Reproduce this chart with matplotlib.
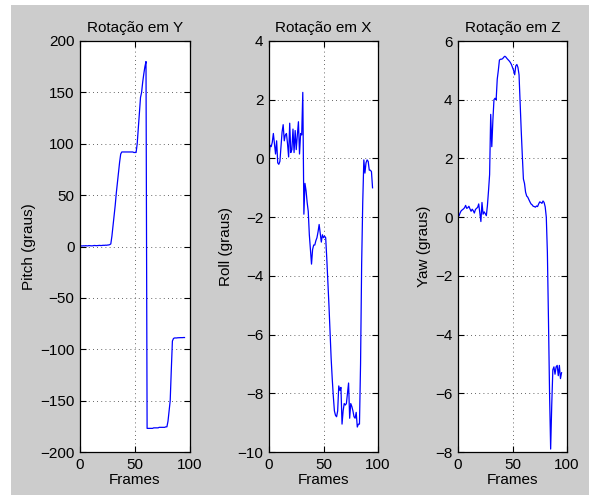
import matplotlib
matplotlib.use("Agg")
import matplotlib.pyplot as plt
from matplotlib.patches import Rectangle
import numpy as np

frames = list(range(96))

pitch = [0.5, 0.6, 0.5, 0.7, 0.6, 0.8, 0.7, 0.6, 0.9, 0.8, 0.7, 0.6, 0.8, 1.0, 0.9,
         0.8, 0.9, 1.0, 1.1, 0.9, 1.0, 1.2, 1.1, 1.3, 1.2, 1.4, 1.5, 1.8, 2.5, 10,
         20, 30, 40, 52, 62, 72, 82, 90, 92, 92, 92, 92, 92, 92, 92, 92,
         92, 92, 92, 91.5, 91.5, 91.5, 100, 115, 130, 145, 150, 160, 168, 175,
         180, -177, -177, -177, -177, -177, -177, -176.5, -176.5, -176.5, -176.5,
         -176.5, -176, -176, -176, -176, -176, -176, -175.5, -175.5, -170, -160,
         -150, -120, -92, -89.5, -89, -89, -89, -88.8, -88.8, -88.7, -88.7, -88.7,
         -88.6, -88.6]

roll = [0.0, 0.45, 0.4, 0.55, 0.85, 0.5, 0.15, 0.6, -0.15, -0.2, -0.1, 0.4, 0.9,
        1.15, 0.6, 0.8, 0.85, 0.5, 0.05, 1.2, 0.2, 0.3, 1.0, 0.2, 0.95, 0.3, 0.8,
        1.25, 0.15, 0.85, 0.8, 2.25, -1.9, -0.85, -1.1, -1.5, -1.8, -2.6, -3.1,
        -3.6, -3.1, -2.95, -2.95, -2.8, -2.7, -2.5, -2.25, -2.55, -2.85, -2.6,
        -2.7, -2.65, -2.7, -3.4, -4.2, -5.0, -5.9, -6.8, -7.5, -8.1, -8.6, -8.75,
        -8.8, -8.6, -7.75, -7.9, -7.8, -9.05, -8.6, -8.35, -8.4, -8.35, -8.0,
        -7.65, -8.85, -8.35, -8.45, -8.6, -8.8, -8.85, -8.65, -9.15, -9.05,
        -9.05, -7.0, -3.6, -1.5, -0.05, -0.5, -0.15, -0.05, -0.1, -0.4, -0.4,
        -0.45, -1.0]

yaw = [0.0, 0.05, 0.15, 0.22, 0.25, 0.28, 0.32, 0.4, 0.3, 0.32, 0.37, 0.28, 0.2,
       0.27, 0.22, 0.14, 0.26, 0.3, 0.33, 0.45, 0.15, -0.15, 0.5, 0.1, 0.18, 0.12,
       0.05, 0.4, 0.9, 1.45, 3.5, 2.4, 3.3, 4.0, 4.05, 4.0, 4.7, 5.0, 5.35, 5.38,
       5.38, 5.4, 5.45, 5.48, 5.45, 5.4, 5.36, 5.32, 5.27, 5.2, 5.1, 5.0, 4.85,
       5.15, 5.2, 5.1, 4.85, 3.9, 2.95, 2.1, 1.3, 1.15, 0.85, 0.72, 0.68, 0.6,
       0.52, 0.45, 0.42, 0.37, 0.36, 0.34, 0.38, 0.36, 0.45, 0.52, 0.5, 0.47,
       0.55, 0.5, 0.35, 0.0, -1.2, -3.5, -6.0, -7.9, -6.4, -5.2, -5.1, -5.35,
       -5.1, -5.05, -5.4, -5.05, -5.5, -5.3]

titles = ["Rotação em Y", "Rotação em X", "Rotação em Z"]
ylabels = ["Pitch (graus)", "Roll (graus)", "Yaw (graus)"]
xticks = [0, 50, 100]
yticks_list = [list(range(-200, 201, 50)), list(range(-10, 5, 2)), list(range(-8, 7, 2))]
series = [pitch, roll, yaw]

plt.rcParams['font.family'] = ['Liberation Sans', 'DejaVu Sans']
plt.rcParams['font.size'] = 11

W, H = 593, 495
fig = plt.figure(figsize=(W / 100, H / 100), dpi=100, facecolor='white')
fig.patches.append(Rectangle((10.5 / W, 0), (589 - 10.5) / W, (495 - 4.5) / H,
                             transform=fig.transFigure, facecolor='#cccccc',
                             edgecolor='none', zorder=-10))

lefts = [80, 269, 458]
widths = [110, 109, 109]
top_px, bot_px = 41, 452
for i in range(3):
    ax = fig.add_axes([lefts[i] / W, (H - bot_px) / H, widths[i] / W, (bot_px - top_px) / H])
    ax.plot(frames, series[i], color='#0000ff', lw=0.9)
    ax.set_xlim(0, 100)
    yt = yticks_list[i]
    ax.set_ylim(yt[0], yt[-1])
    ax.set_xticks(xticks)
    ax.set_yticks(yt)
    ax.grid(True, linestyle=(0, (1, 4)), color='black', lw=0.6, alpha=0.8)
    ax.tick_params(direction='in', top=True, right=True, length=4, width=0.8,
                   labelsize=11, pad=4)
    for s in ax.spines.values():
        s.set_linewidth(0.9)
    ax.set_title(titles[i], fontsize=11, pad=6.5)
    ax.set_xlabel("Frames", fontsize=11, labelpad=1)
    ax.set_ylabel(ylabels[i], fontsize=11, labelpad=3)

fig.savefig("out.png", dpi=100, facecolor='white')
